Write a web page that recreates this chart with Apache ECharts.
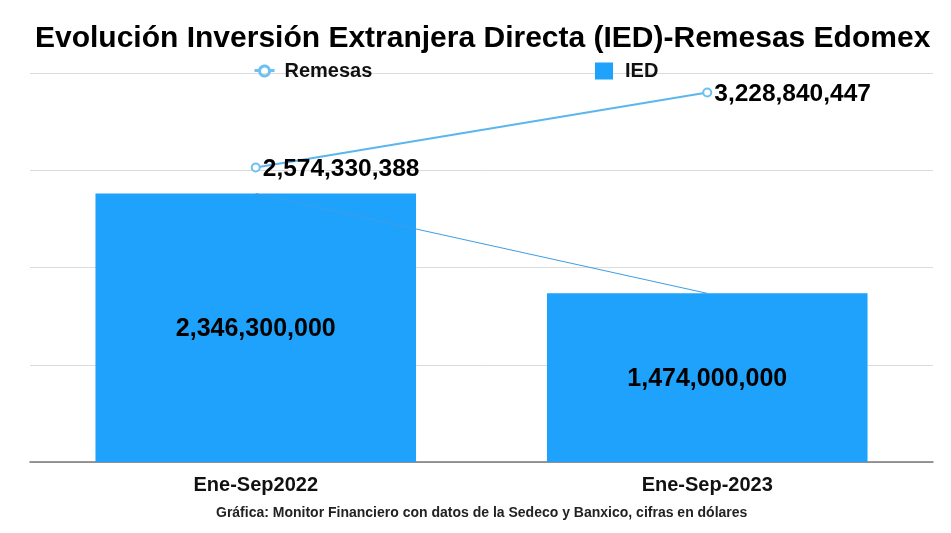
<!DOCTYPE html>
<html><head><meta charset="utf-8">
<script src="https://cdn.jsdelivr.net/npm/echarts@6/dist/echarts.min.js"></script>
<style>html,body{margin:0;padding:0;background:#fff}#c{width:951px;height:533px}</style>
</head><body><div id="c"></div>
<script>
const categories = ['Ene-Sep2022', 'Ene-Sep-2023'];
const remesas = [2574330388, 3228840447];
const ied = [2346300000, 1474000000];
const title = 'Evolución Inversión Extranjera Directa (IED)-Remesas Edomex';
const note = 'Gráfica: Monitor Financiero con datos de la Sedeco y Banxico, cifras en dólares';
const fmt = v => Math.round(v).toLocaleString('en-US');
const font = 'Arial, "Liberation Sans", sans-serif';
const chart = echarts.init(document.getElementById('c'), null, {renderer: 'canvas'});
const legendText = {fontSize: 20, fontWeight: 'bold', color: '#111', fontFamily: font};
chart.setOption({
  animation: false,
  backgroundColor: '#fff',
  textStyle: {fontFamily: font},
  title: [
    {text: title, left: 30, top: 19, textStyle: {fontSize: 30, fontWeight: 'bold', color: '#000', fontFamily: font}},
    {text: note, left: 211, top: 501, textStyle: {fontSize: 14, fontWeight: 'bold', color: '#222', fontFamily: font}}
  ],
  legend: [
    {
      top: 56, left: 248, itemWidth: 20, itemHeight: 12, itemGap: 12,
      textStyle: Object.assign({padding: [0, 0, 0, 5]}, legendText),
      data: [{name: 'Remesas', icon: 'path://M0,6 L5,6 M15,6 L20,6 M15,6 A5,5 0 1 1 14.99,5.9 Z', itemStyle: {color: 'transparent', borderColor: '#6cc0f2', borderWidth: 3}}]
    },
    {
      top: 56, left: 590, itemWidth: 18, itemHeight: 17, itemGap: 16,
      textStyle: Object.assign({padding: [0, 0, 0, 7]}, legendText),
      data: [{name: 'IED', icon: 'rect'}]
    }
  ],
  grid: {left: 30, right: 18, top: 73, bottom: 71},
  xAxis: {
    type: 'category', data: categories,
    axisLine: {lineStyle: {color: '#777', width: 1.5}},
    axisTick: {show: false},
    axisLabel: {fontSize: 20, fontWeight: 'bold', color: '#111', margin: 13, fontFamily: font}
  },
  yAxis: {
    type: 'value', min: 0, max: 3400000000, interval: 850000000,
    axisLabel: {show: false}, axisLine: {show: false}, axisTick: {show: false},
    splitLine: {lineStyle: {color: '#dcdcdc', width: 1}}
  },
  series: [
    {
      name: 'IED', type: 'bar', data: ied, barWidth: '71%',
      itemStyle: {color: '#1ea2fc'},
      label: {show: true, position: 'inside', offset: [0, 1], formatter: p => fmt(p.value), fontSize: 25, fontWeight: 'bold', color: '#000', fontFamily: font},
      z: 2
    },
    {
      name: 'IEDline', type: 'line', data: ied, symbol: 'none',
      lineStyle: {color: '#3e9de6', width: 1}, z: 3, silent: true
    },
    {
      name: 'Remesas', type: 'line', data: remesas,
      symbol: 'circle', symbolSize: 8, showSymbol: true,
      itemStyle: {color: '#fff', borderColor: '#6cc0f2', borderWidth: 2},
      lineStyle: {color: '#5cb6ee', width: 2},
      label: {show: true, position: 'right', distance: 2, offset: [0, 2], formatter: p => fmt(p.value), fontSize: 24.5, fontWeight: 'bold', color: '#000', fontFamily: font},
      z: 4
    }
  ]
});
</script></body></html>
